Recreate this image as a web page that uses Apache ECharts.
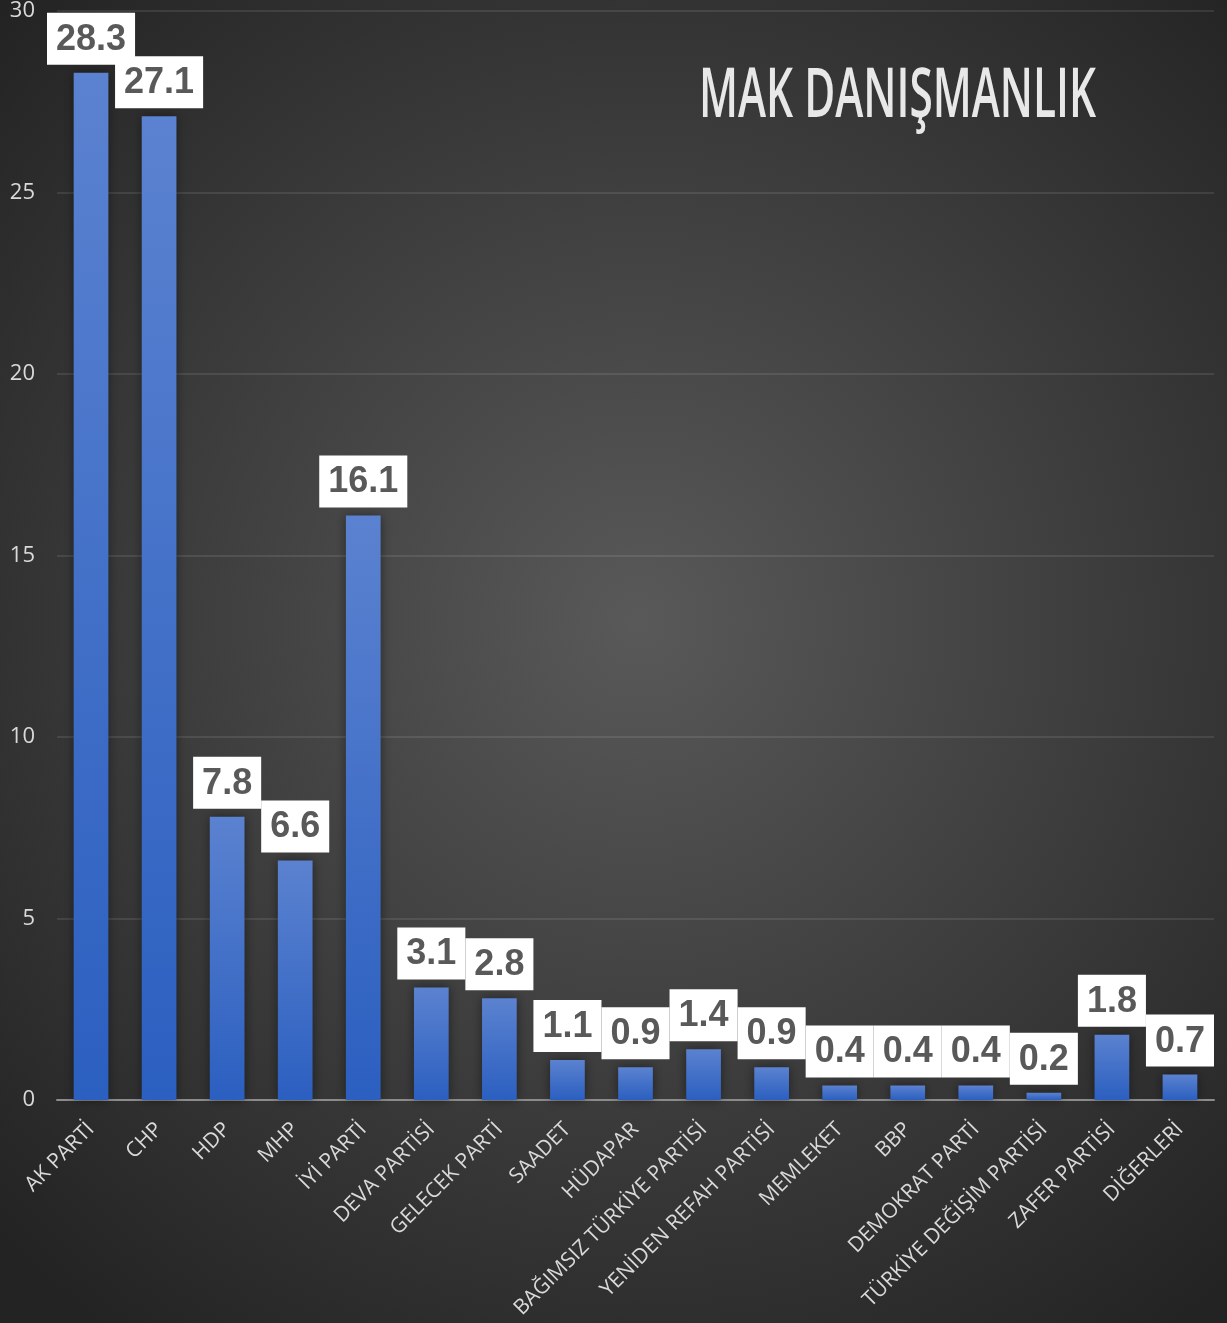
<!DOCTYPE html>
<html>
<head>
<meta charset="utf-8">
<script src="https://cdn.jsdelivr.net/npm/echarts@6/dist/echarts.min.js"></script>
<style>
  html, body { margin: 0; padding: 0; }
  #chart { width: 1227px; height: 1323px; }
</style>
</head>
<body>
<div id="chart"></div>
<script>
const parties = ['AK PARTİ', 'CHP', 'HDP', 'MHP', 'İYİ PARTİ', 'DEVA PARTİSİ', 'GELECEK PARTİ',
  'SAADET', 'HÜDAPAR', 'BAĞIMSIZ TÜRKİYE PARTİSİ', 'YENİDEN REFAH PARTİSİ', 'MEMLEKET',
  'BBP', 'DEMOKRAT PARTİ', 'TÜRKİYE DEĞİŞİM PARTİSİ', 'ZAFER PARTİSİ', 'DİĞERLERİ'];
const shares = [28.3, 27.1, 7.8, 6.6, 16.1, 3.1, 2.8, 1.1, 0.9, 1.4, 0.9, 0.4, 0.4, 0.4, 0.2, 1.8, 0.7];
const yTicks = [0, 5, 10, 15, 20, 25, 30];
const brand = 'MAK DANIŞMANLIK';

// squeeze the brand text to the narrow width it has in the original
const titleFont = '600 68px "Open Sans"';
let ctx = document.createElement('canvas').getContext('2d');
ctx.font = titleFont;
let titleScale = 397 / ctx.measureText(brand).width;

let chart = echarts.init(document.getElementById('chart'));
let option = {
  backgroundColor: {
    type: 'radial', x: 0.52, y: 0.47, r: 0.72,
    colorStops: [
      {offset: 0, color: '#595959'},
      {offset: 1, color: '#232323'}
    ]
  },
  graphic: [{
    type: 'text',
    x: 699,
    y: 64,
    scaleX: titleScale,
    style: {
      text: brand,
      font: titleFont,
      fill: '#e8e8e8',
      shadowColor: 'rgba(0,0,0,0.55)',
      shadowBlur: 4
    }
  }],
  grid: {left: 57, right: 13, top: 11, bottom: 223, containLabel: false},
  xAxis: {
    type: 'category',
    data: parties,
    axisTick: {show: false},
    axisLine: {lineStyle: {color: '#8c8c8c', width: 2}},
    axisLabel: {
      interval: 0,
      rotate: 45,
      margin: 26,
      color: '#d9d9d9',
      fontFamily: 'Open Sans',
      fontSize: 21
    }
  },
  yAxis: {
    type: 'value',
    min: yTicks[0],
    max: yTicks[yTicks.length - 1],
    interval: 5,
    axisLine: {show: false},
    axisTick: {show: false},
    axisLabel: {color: '#d9d9d9', fontFamily: 'Open Sans', fontSize: 22, margin: 22},
    splitLine: {lineStyle: {color: 'rgba(255,255,255,0.13)', width: 1.5}}
  },
  series: [{
    type: 'bar',
    data: shares,
    barWidth: '51%',
    itemStyle: {
      color: {
        type: 'linear', x: 0, y: 0, x2: 0, y2: 1,
        colorStops: [
          {offset: 0, color: '#5b82d0'},
          {offset: 1, color: '#2b5fc0'}
        ]
      },
      shadowColor: 'rgba(0,0,0,0.45)',
      shadowBlur: 10
    },
    label: {
      show: true,
      position: 'top',
      distance: 8,
      backgroundColor: '#ffffff',
      padding: [9, 9, 7, 9],
      color: '#595959',
      fontFamily: 'Liberation Sans',
      fontWeight: 'bold',
      fontSize: 36
    }
  }]
};
chart.setOption(option);
</script>
</body>
</html>
